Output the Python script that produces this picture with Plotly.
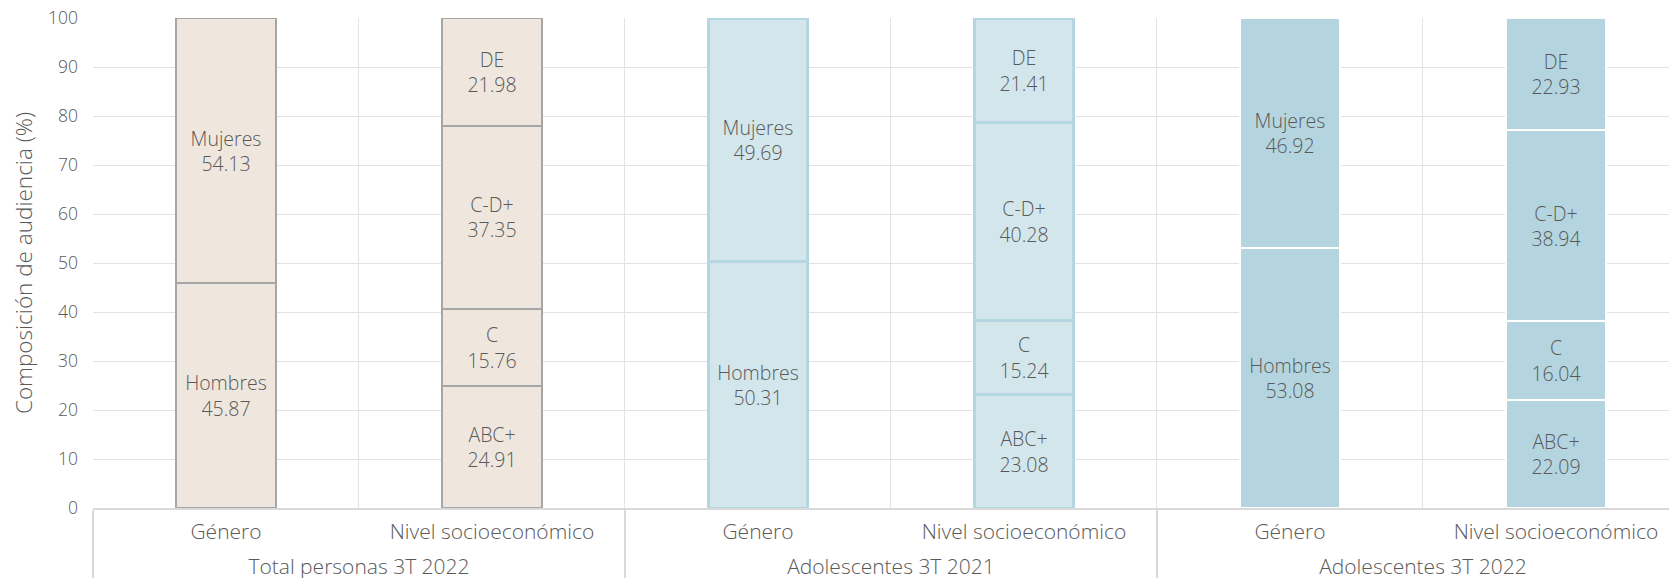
import plotly.graph_objects as go

# ---------------- data ----------------
groups = ["Total personas 3T 2022", "Adolescentes 3T 2021", "Adolescentes 3T 2022"]
subcats = ["Género", "Nivel socioeconómico"]

genero_names = ["Hombres", "Mujeres"]
hombres = [45.87, 50.31, 53.08]
mujeres = [54.13, 49.69, 46.92]

nse_names = ["ABC+", "C", "C-D+", "DE"]
abc_plus = [24.91, 23.08, 22.09]
c_vals = [15.76, 15.24, 16.04]
cd_plus = [37.35, 40.28, 38.94]
de_vals = [21.98, 21.41, 22.93]

y_ticks = [0, 10, 20, 30, 40, 50, 60, 70, 80, 90, 100]
y_title = "Composición de audiencia (%)"

# ---------------- styles ----------------
fill_colors = ["#EFE7DE", "#D3E6EC", "#B4D5DF"]
line_colors = ["#A6A6A6", "#B4D6E0", "#FFFFFF"]
line_widths = [2, 3, 2]
text_color = "#595959"
font_family = "Open Sans, Lato, sans-serif"
font_weight = 350

# invisible padding that only makes the first label level taller,
# so the second (group) level sits further below
pad = "<span style='font-size:27px'>\u00a0</span>"

fig = go.Figure()

for gi, grp in enumerate(groups):
    segments = [
        (subcats[0], genero_names, [hombres[gi], mujeres[gi]]),
        (subcats[1], nse_names, [abc_plus[gi], c_vals[gi], cd_plus[gi], de_vals[gi]]),
    ]
    for sub, names, vals in segments:
        for name, v in zip(names, vals):
            fig.add_trace(go.Bar(
                x=[[grp], [pad + sub + pad]],
                y=[v],
                text=[f"{name}<br>{v:.2f}"],
                textposition="inside",
                insidetextanchor="middle",
                textangle=0,
                constraintext="none",
                textfont=dict(family=font_family, size=19.5, color=text_color,
                              weight=font_weight),
                marker=dict(color=fill_colors[gi],
                            line=dict(color=line_colors[gi], width=line_widths[gi])),
                showlegend=False,
                hoverinfo="skip",
                cliponaxis=False,
            ))

# the page body has an 8px default margin, so the figure is 8px smaller
fig.update_layout(
    width=1669, height=570,
    margin=dict(l=85, r=0, t=10, b=70),
    barmode="stack",
    bargap=0.625,
    plot_bgcolor="white",
    paper_bgcolor="white",
    font=dict(family=font_family, size=18, color=text_color, weight=font_weight),
    showlegend=False,
)

fig.update_xaxes(
    type="multicategory",
    range=[-0.5, 5.455],
    automargin=False,
    tickson="boundaries",
    showgrid=True,
    gridcolor="#E3E3E3",
    gridwidth=1,
    showline=True,
    linecolor="#D9D9D9",
    linewidth=2,
    ticks="",
    ticklabelstandoff=4,
    showdividers=True,
    dividercolor="#D9D9D9",
    dividerwidth=2,
    tickfont=dict(family=font_family, size=21, color=text_color, weight=font_weight),
)

fig.update_yaxes(
    range=[0, 100.02],
    automargin=False,
    tickvals=y_ticks,
    ticklabeloverflow="allow",
    showgrid=True,
    gridcolor="#E3E3E3",
    gridwidth=1,
    zeroline=False,
    showline=False,
    ticks="",
    ticklabelstandoff=14,
    tickfont=dict(family=font_family, size=17.5, color=text_color, weight=font_weight),
    title=dict(text=y_title, standoff=23,
               font=dict(family=font_family, size=22.5, color=text_color,
                         weight=font_weight)),
)

fig.write_html("out.html")
